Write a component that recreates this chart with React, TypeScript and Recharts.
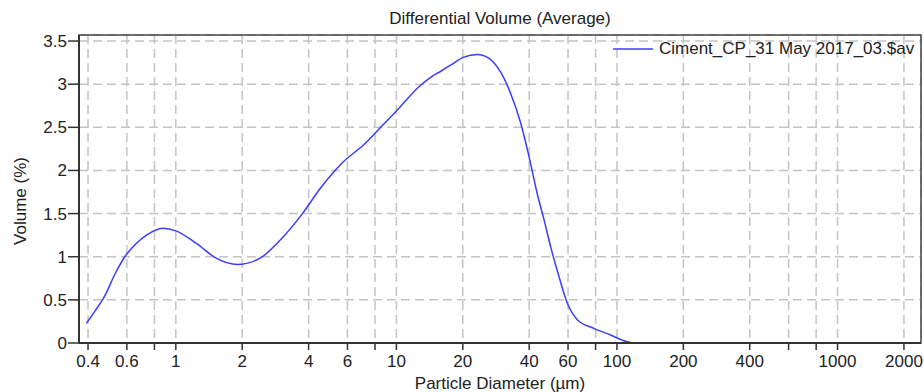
import React from 'react';
import { CartesianGrid, Label, Legend, Line, LineChart, ReferenceArea, XAxis, YAxis } from 'recharts';

// particle diameter (µm) and differential volume (%)
const diameters = [0.393, 0.43, 0.477, 0.53, 0.587, 0.66, 0.736, 0.876, 1.0, 1.24, 1.53, 1.9, 2.4, 2.99, 3.75, 4.54, 5.69, 7.13, 8.49, 10.1, 12.65, 14.3, 15.9, 17.6, 20.1, 23.3, 26.3, 29.7, 33.0, 36.6, 40.6, 43.5, 46.7, 50.0, 54.6, 59.6, 66.1, 78.6, 93.5, 111, 122, 132];
const volumes = [0.228, 0.37, 0.55, 0.8, 1.0, 1.15, 1.25, 1.33, 1.3, 1.155, 0.98, 0.91, 0.98, 1.2, 1.5, 1.8, 2.09, 2.3, 2.5, 2.7, 2.97, 3.08, 3.15, 3.22, 3.31, 3.345, 3.3, 3.14, 2.89, 2.55, 2.08, 1.73, 1.43, 1.12, 0.77, 0.46, 0.27, 0.17, 0.093, 0.015, 0, 0];

const xTicks = [0.4, 0.6, 0.8, 1, 2, 4, 6, 8, 10, 20, 40, 60, 80, 100, 200, 400, 600, 800, 1000, 2000];
const unlabeledTicks = [0.8, 8, 80, 600, 800];
const yTicks = [0, 0.5, 1, 1.5, 2, 2.5, 3, 3.5];

const X_DOMAIN: [number, number] = [0.364, 2390];
const Y_DOMAIN: [number, number] = [0, 3.57];

const SERIES_NAME = 'Ciment_CP_31 May 2017_03.$av';
const LINE_COLOR = '#3c3cff';
const FONT = '"Liberation Sans", Arial, sans-serif';
const TEXT_COLOR = '#222';

const data = diameters.map((d, i) => ({ d, v: volumes[i] }));

const LegendContent = () => (
	<div style={{ display: 'flex', alignItems: 'center', fontFamily: FONT, fontSize: 17, color: TEXT_COLOR, whiteSpace: 'nowrap' }}>
		<svg width={40} height={4} style={{ marginRight: 6 }}>
			<line x1={0} y1={2} x2={40} y2={2} stroke={LINE_COLOR} strokeWidth={1.5} />
		</svg>
		<span>{SERIES_NAME}</span>
	</div>
);

const YLabel = (props: any) => {
	const vb = props.viewBox || { x: 0, y: 0, width: 0, height: 0 };
	const cx = vb.x + 20;
	const cy = vb.y + vb.height / 2 + 12;
	return (
		<text x={cx} y={cy} transform={`rotate(-90 ${cx} ${cy})`} textAnchor="middle" dominantBaseline="central" fill={TEXT_COLOR} fontSize={17} fontFamily={FONT}>
			Volume (%)
		</text>
	);
};

export default function App() {
	return (
		<div style={{ position: 'absolute', left: 0, top: 0, width: 924, height: 392, background: '#fff' }}>
			<div style={{ position: 'absolute', left: 0, top: 9, width: 1000, textAlign: 'center', fontFamily: FONT, fontSize: 17, color: TEXT_COLOR }}>
				Differential Volume (Average)
			</div>
			<LineChart width={924} height={392} data={data} margin={{ top: 35, right: 3, left: 0, bottom: 0 }}>
				<CartesianGrid stroke="#c4c4c4" strokeDasharray="9 5" strokeWidth={1.5} />
				<XAxis
					dataKey="d"
					type="number"
					scale="log"
					domain={X_DOMAIN}
					allowDataOverflow
					ticks={xTicks}
					interval={0}
					height={49}
					tickSize={7}
					tickMargin={5}
					tickFormatter={(t: number) => (unlabeledTicks.includes(t) ? '' : String(t))}
					tick={{ fontSize: 17, fill: TEXT_COLOR, fontFamily: FONT }}
					axisLine={{ stroke: '#333', strokeWidth: 2 }}
					tickLine={{ stroke: '#333', strokeWidth: 1.5 }}
				>
					<Label value="Particle Diameter (µm)" position="insideBottom" offset={3} fill={TEXT_COLOR} fontSize={17} fontFamily={FONT} />
				</XAxis>
				<YAxis
					type="number"
					domain={Y_DOMAIN}
					allowDataOverflow
					ticks={yTicks}
					interval={0}
					width={79}
					tickSize={11}
					tickMargin={1}
					tick={{ fontSize: 17, fill: TEXT_COLOR, fontFamily: FONT }}
					axisLine={{ stroke: '#333', strokeWidth: 2 }}
					tickLine={{ stroke: '#333', strokeWidth: 1.5 }}
					label={{ content: YLabel }}
				/>
				<ReferenceArea x1={X_DOMAIN[0]} x2={X_DOMAIN[1]} y1={Y_DOMAIN[0]} y2={Y_DOMAIN[1]} fill="none" stroke="#444" strokeWidth={1.5} />
				<Legend
					layout="horizontal"
					verticalAlign="middle"
					align="center"
					content={LegendContent}
					wrapperStyle={{ top: 39, left: 613, width: 'auto', height: 'auto' }}
				/>
				<Line
					type="monotone"
					dataKey="v"
					name={SERIES_NAME}
					stroke={LINE_COLOR}
					strokeWidth={1.5}
					dot={false}
					isAnimationActive={false}
				/>
			</LineChart>
		</div>
	);
}
